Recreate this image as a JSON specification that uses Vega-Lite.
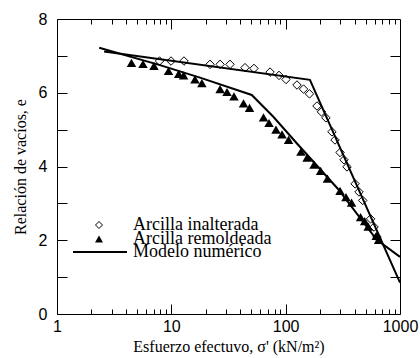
{
  "$schema": "https://vega.github.io/schema/vega-lite/v6.json",
  "width": 343,
  "height": 295,
  "autosize": "none",
  "padding": {"left": 57, "top": 19, "right": 20, "bottom": 44},
  "background": "white",
  "config": {
    "view": {"stroke": "black", "strokeWidth": 1},
    "axis": {"grid": false, "domain": false, "tickColor": "black", "tickWidth": 1, "labelColor": "black", "titleColor": "black"},
    "legend": {"title": null, "padding": 0, "labelFont": "Liberation Serif", "labelFontSize": 18, "labelColor": "black", "labelLimit": 0, "symbolOffset": 0}
  },
  "datasets": {
    "ensayos": [
      {"serie": "Arcilla inalterada", "sigma": 7.88, "e": 6.86},
      {"serie": "Arcilla inalterada", "sigma": 9.94, "e": 6.86},
      {"serie": "Arcilla inalterada", "sigma": 12.9, "e": 6.86},
      {"serie": "Arcilla inalterada", "sigma": 21.8, "e": 6.77},
      {"serie": "Arcilla inalterada", "sigma": 26.7, "e": 6.77},
      {"serie": "Arcilla inalterada", "sigma": 32.6, "e": 6.77},
      {"serie": "Arcilla inalterada", "sigma": 44.1, "e": 6.68},
      {"serie": "Arcilla inalterada", "sigma": 52.8, "e": 6.66},
      {"serie": "Arcilla inalterada", "sigma": 73.0, "e": 6.56},
      {"serie": "Arcilla inalterada", "sigma": 87.5, "e": 6.47},
      {"serie": "Arcilla inalterada", "sigma": 100.7, "e": 6.36},
      {"serie": "Arcilla inalterada", "sigma": 125.6, "e": 6.21},
      {"serie": "Arcilla inalterada", "sigma": 143.3, "e": 6.10},
      {"serie": "Arcilla inalterada", "sigma": 161.5, "e": 5.97},
      {"serie": "Arcilla inalterada", "sigma": 188, "e": 5.64},
      {"serie": "Arcilla inalterada", "sigma": 205.7, "e": 5.48},
      {"serie": "Arcilla inalterada", "sigma": 225, "e": 5.32},
      {"serie": "Arcilla inalterada", "sigma": 254, "e": 4.94},
      {"serie": "Arcilla inalterada", "sigma": 270, "e": 4.72},
      {"serie": "Arcilla inalterada", "sigma": 299, "e": 4.38},
      {"serie": "Arcilla inalterada", "sigma": 324, "e": 4.18},
      {"serie": "Arcilla inalterada", "sigma": 344, "e": 3.99},
      {"serie": "Arcilla inalterada", "sigma": 405, "e": 3.53},
      {"serie": "Arcilla inalterada", "sigma": 438, "e": 3.31},
      {"serie": "Arcilla inalterada", "sigma": 472, "e": 3.08},
      {"serie": "Arcilla inalterada", "sigma": 553, "e": 2.58},
      {"serie": "Arcilla inalterada", "sigma": 593, "e": 2.36},
      {"serie": "Arcilla inalterada", "sigma": 629, "e": 2.09},
      {"serie": "Arcilla remoldeada", "sigma": 4.48, "e": 6.81},
      {"serie": "Arcilla remoldeada", "sigma": 5.65, "e": 6.78},
      {"serie": "Arcilla remoldeada", "sigma": 7.05, "e": 6.73},
      {"serie": "Arcilla remoldeada", "sigma": 9.45, "e": 6.59},
      {"serie": "Arcilla remoldeada", "sigma": 11.6, "e": 6.51},
      {"serie": "Arcilla remoldeada", "sigma": 12.8, "e": 6.47},
      {"serie": "Arcilla remoldeada", "sigma": 16.1, "e": 6.36},
      {"serie": "Arcilla remoldeada", "sigma": 18.5, "e": 6.26},
      {"serie": "Arcilla remoldeada", "sigma": 26.7, "e": 6.10},
      {"serie": "Arcilla remoldeada", "sigma": 30.7, "e": 6.02},
      {"serie": "Arcilla remoldeada", "sigma": 35.3, "e": 5.90},
      {"serie": "Arcilla remoldeada", "sigma": 42.8, "e": 5.71},
      {"serie": "Arcilla remoldeada", "sigma": 48.3, "e": 5.59},
      {"serie": "Arcilla remoldeada", "sigma": 64.0, "e": 5.33},
      {"serie": "Arcilla remoldeada", "sigma": 71.5, "e": 5.18},
      {"serie": "Arcilla remoldeada", "sigma": 82.3, "e": 5.00},
      {"serie": "Arcilla remoldeada", "sigma": 92.9, "e": 4.87},
      {"serie": "Arcilla remoldeada", "sigma": 106, "e": 4.72},
      {"serie": "Arcilla remoldeada", "sigma": 136, "e": 4.40},
      {"serie": "Arcilla remoldeada", "sigma": 154, "e": 4.24},
      {"serie": "Arcilla remoldeada", "sigma": 177, "e": 4.05},
      {"serie": "Arcilla remoldeada", "sigma": 202, "e": 3.88},
      {"serie": "Arcilla remoldeada", "sigma": 232, "e": 3.67},
      {"serie": "Arcilla remoldeada", "sigma": 299, "e": 3.34},
      {"serie": "Arcilla remoldeada", "sigma": 337, "e": 3.17},
      {"serie": "Arcilla remoldeada", "sigma": 377, "e": 3.02},
      {"serie": "Arcilla remoldeada", "sigma": 452, "e": 2.63},
      {"serie": "Arcilla remoldeada", "sigma": 491, "e": 2.52},
      {"serie": "Arcilla remoldeada", "sigma": 527, "e": 2.37},
      {"serie": "Arcilla remoldeada", "sigma": 620, "e": 2.12},
      {"serie": "Arcilla remoldeada", "sigma": 650, "e": 2.01}
    ],
    "modelo": [
      {"curva": "inalterada", "sigma": 2.58, "e": 7.12},
      {"curva": "inalterada", "sigma": 163, "e": 6.35},
      {"curva": "inalterada", "sigma": 1000, "e": 0.85},
      {"curva": "remoldeada", "sigma": 2.34, "e": 7.22},
      {"curva": "remoldeada", "sigma": 7.96, "e": 6.75},
      {"curva": "remoldeada", "sigma": 17.8, "e": 6.41},
      {"curva": "remoldeada", "sigma": 50.5, "e": 5.94},
      {"curva": "remoldeada", "sigma": 78, "e": 5.35},
      {"curva": "remoldeada", "sigma": 125, "e": 4.63},
      {"curva": "remoldeada", "sigma": 287, "e": 3.39},
      {"curva": "remoldeada", "sigma": 626, "e": 2.01},
      {"curva": "remoldeada", "sigma": 1000, "e": 1.55}
    ]
  },
  "resolve": {
    "axis": {"x": "independent", "y": "independent"},
    "scale": {"shape": "independent"},
    "legend": {"shape": "independent"}
  },
  "layer": [
    {
      "data": {"name": "ensayos"},
      "transform": [{"filter": "datum.serie === 'Arcilla inalterada'"}],
      "mark": {"type": "point", "filled": false, "color": "black", "strokeWidth": 1, "opacity": 1, "size": 72},
      "encoding": {
        "x": {
          "field": "sigma", "type": "quantitative",
          "scale": {"type": "log", "domain": [1, 1000], "nice": false},
          "axis": {
            "orient": "bottom", "values": [1, 10, 100, 1000], "format": "d",
            "ticks": true, "tickSize": 10, "offset": -10, "domain": false,
            "labelFlush": false, "labelOverlap": false,
            "labelFont": "Liberation Sans", "labelFontSize": 16, "labelPadding": 4,
            "title": "Esfuerzo efectuvo,  σ'  (kN/m²)",
            "titleFont": "Liberation Serif", "titleFontSize": 16, "titleFontWeight": "normal", "titlePadding": 4
          }
        },
        "y": {
          "field": "e", "type": "quantitative",
          "scale": {"domain": [0, 8], "nice": false},
          "axis": {
            "orient": "left", "values": [0, 1, 2, 3, 4, 5, 6, 7, 8],
            "labelExpr": "datum.value % 2 == 0 ? datum.label : ''",
            "ticks": true, "tickSize": 10, "offset": -10, "domain": false,
            "labelFlush": false, "labelOverlap": false,
            "labelFont": "Liberation Sans", "labelFontSize": 16, "labelPadding": 10,
            "title": "Relación de vacíos, e",
            "titleFont": "Liberation Serif", "titleFontSize": 16, "titleFontWeight": "normal", "titlePadding": 10
          }
        },
        "shape": {
          "field": "serie", "type": "nominal",
          "scale": {"domain": ["Arcilla inalterada"], "range": ["diamond"]},
          "legend": {
            "orient": "none", "legendX": 33, "legendY": 197,
            "symbolSize": 49, "labelOffset": 25,
            "symbolStrokeColor": "black", "symbolStrokeWidth": 1, "symbolFillColor": "transparent"
          }
        }
      }
    },
    {
      "data": {"name": "ensayos"},
      "transform": [{"filter": "datum.serie === 'Arcilla remoldeada'"}],
      "mark": {"type": "point", "filled": true, "color": "black", "opacity": 1, "size": 90},
      "encoding": {
        "x": {
          "field": "sigma", "type": "quantitative",
          "axis": {
            "orient": "bottom", "values": [2, 3, 4, 5, 6, 7, 8, 9, 20, 30, 40, 50, 60, 70, 80, 90, 200, 300, 400, 500, 600, 700, 800, 900],
            "labels": false, "domain": false, "title": null, "tickSize": 5, "offset": -5
          }
        },
        "y": {
          "field": "e", "type": "quantitative",
          "axis": {
            "orient": "right", "values": [1, 2, 3, 4, 5, 6, 7],
            "labels": false, "domain": false, "title": null, "tickSize": 10, "offset": -10
          }
        },
        "shape": {
          "field": "serie", "type": "nominal",
          "scale": {"domain": ["Arcilla remoldeada"], "range": ["triangle-up"]},
          "legend": {
            "orient": "none", "legendX": 33, "legendY": 211,
            "symbolSize": 64, "labelOffset": 25,
            "symbolFillColor": "black", "symbolStrokeColor": "black"
          }
        }
      }
    },
    {
      "data": {"name": "modelo"},
      "transform": [{"filter": "datum.curva === 'remoldeada'"}],
      "mark": {"type": "line", "strokeWidth": 2},
      "encoding": {
        "x": {
          "field": "sigma", "type": "quantitative",
          "axis": {
            "orient": "top", "values": [2, 3, 4, 5, 6, 7, 8, 9, 20, 30, 40, 50, 60, 70, 80, 90, 200, 300, 400, 500, 600, 700, 800, 900],
            "labels": false, "domain": false, "title": null, "tickSize": 5, "offset": -5
          }
        },
        "y": {"field": "e", "type": "quantitative", "axis": null},
        "color": {
          "datum": "Modelo numérico", "type": "nominal",
          "scale": {"domain": ["Modelo numérico"], "range": ["black"]},
          "legend": {
            "orient": "none", "legendX": 15, "legendY": 205,
            "symbolType": "stroke", "symbolSize": 2916, "symbolStrokeWidth": 2, "labelOffset": 5
          }
        }
      }
    },
    {
      "data": {"name": "modelo"},
      "transform": [{"filter": "datum.curva === 'inalterada'"}],
      "mark": {"type": "line", "strokeWidth": 2},
      "encoding": {
        "x": {
          "field": "sigma", "type": "quantitative",
          "axis": {
            "orient": "top", "values": [10, 100],
            "labels": false, "domain": false, "title": null, "tickSize": 10, "offset": -10
          }
        },
        "y": {"field": "e", "type": "quantitative", "axis": null},
        "color": {"datum": "Modelo numérico", "type": "nominal"}
      }
    }
  ]
}
